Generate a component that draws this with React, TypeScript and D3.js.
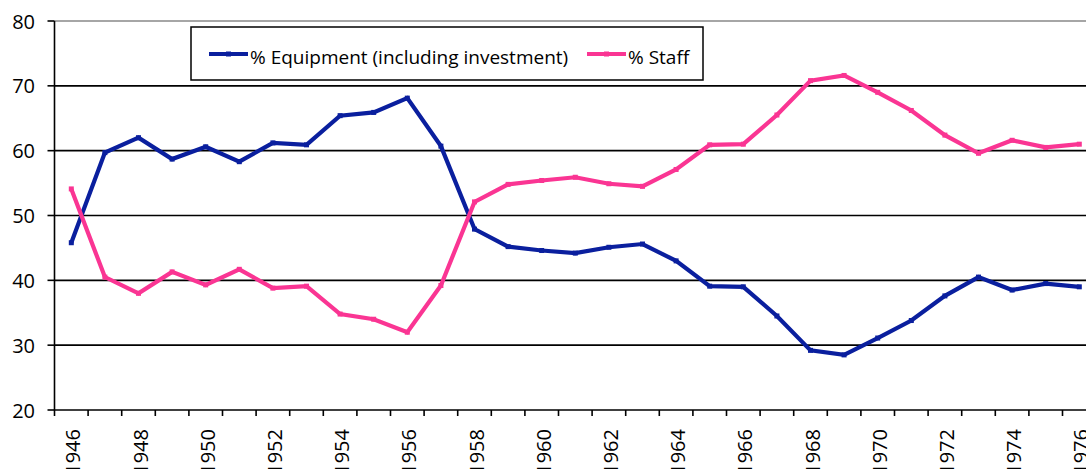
import React from "react";
import * as d3 from "d3";

const years: number[] = d3.range(1946, 1977);
const equipment: number[] = [
  45.8, 59.7, 62.0, 58.7, 60.6, 58.3, 61.2, 60.9, 65.4, 65.9, 68.1,
  60.7, 47.9, 45.2, 44.6, 44.2, 45.1, 45.6, 43.0, 39.1, 39.0, 34.5,
  29.2, 28.5, 31.1, 33.8, 37.6, 40.5, 38.5, 39.5, 39.0,
];
const staff: number[] = [
  54.1, 40.5, 38.0, 41.3, 39.3, 41.7, 38.8, 39.1, 34.8, 34.0, 32.0,
  39.2, 52.1, 54.8, 55.4, 55.9, 54.9, 54.5, 57.1, 60.9, 61.0, 65.5,
  70.8, 71.6, 69.0, 66.2, 62.4, 59.6, 61.6, 60.5, 61.0,
];
const yTicks: number[] = [20, 30, 40, 50, 60, 70, 80];
const seriesNames: string[] = ["% Equipment (including investment)", "% Staff"];
const seriesColors: string[] = ["#0a1f9e", "#fa3593"];

const W = 1086;
const H = 469;
const left = 54.5;
const band = 33.6;
const top = 21;
const bottom = 410;
const FONT = "'Open Sans', Lato, sans-serif";

export default function App() {
  const x = d3
    .scaleBand<number>()
    .domain(years)
    .range([left, left + band * years.length])
    .paddingInner(0)
    .paddingOuter(0);
  const y = d3.scaleLinear().domain([20, 80]).range([bottom, top]);
  const cx = (yr: number) => (x(yr) as number) + x.bandwidth() / 2;
  const line = d3
    .line<number>()
    .x((_, i) => cx(years[i]))
    .y((d) => y(d));
  const data = [equipment, staff];
  const boundaries = d3.range(0, years.length + 1).map((i) => left + i * x.bandwidth());

  return (
    <div style={{ position: "fixed", left: 0, top: 0 }}>
      <svg width={W} height={H} style={{ display: "block", background: "#fff" }}>
        {yTicks.slice(1).map((t) => (
          <line
            key={"g" + t}
            x1={left}
            x2={W}
            y1={y(t)}
            y2={y(t)}
            stroke={t === 80 ? "#888" : "#000"}
            strokeWidth={t === 80 ? 1.5 : 1.6}
          />
        ))}
        <line x1={left} x2={left} y1={top} y2={bottom} stroke="#000" strokeWidth={1.6} />
        {yTicks.map((t) => (
          <g key={"y" + t}>
            <line x1={left - 7} x2={left} y1={y(t)} y2={y(t)} stroke="#000" strokeWidth={1.6} />
            <text
              x={35}
              y={y(t)}
              textAnchor="end"
              dominantBaseline="central"
              fontFamily={FONT}
              fontSize={20}
              fill="#000"
            >
              {t}
            </text>
          </g>
        ))}
        <line x1={left} x2={W} y1={bottom} y2={bottom} stroke="#000" strokeWidth={1.6} />
        {boundaries.map((bx, i) => (
          <line key={"xt" + i} x1={bx} x2={bx} y1={bottom} y2={bottom + 6} stroke="#000" strokeWidth={1.6} />
        ))}
        {years
          .filter((yr) => yr % 2 === 0)
          .map((yr) => (
            <text
              key={"xl" + yr}
              transform={`translate(${cx(yr) + 1.5},${429}) rotate(-90)`}
              textAnchor="end"
              dominantBaseline="central"
              fontFamily={FONT}
              fontSize={20}
              fill="#000"
            >
              {yr}
            </text>
          ))}
        {data.map((d, si) => (
          <g key={"s" + si}>
            <path d={line(d) || ""} fill="none" stroke={seriesColors[si]} strokeWidth={4.2} strokeLinejoin="miter" />
            {d.map((v, i) => (
              <rect
                key={i}
                x={cx(years[i]) - 2.5}
                y={y(v) - 2.5}
                width={5}
                height={5}
                fill={seriesColors[si]}
              />
            ))}
          </g>
        ))}
        <rect x={191} y={27} width={512} height={53} fill="#fff" stroke="#000" strokeWidth={1.5} />
        {[
          { x1: 209, x2: 248, tx: 250 },
          { x1: 587, x2: 626, tx: 628 },
        ].map((p, si) => (
          <g key={"lg" + si}>
            <line x1={p.x1} x2={p.x2} y1={54} y2={54} stroke={seriesColors[si]} strokeWidth={4} />
            <rect x={(p.x1 + p.x2) / 2 - 2.5} y={51.5} width={5} height={5} fill={seriesColors[si]} />
            <text x={p.tx} y={57} dominantBaseline="central" fontFamily={FONT} fontSize={19} fill="#000">
              {seriesNames[si]}
            </text>
          </g>
        ))}
      </svg>
    </div>
  );
}
